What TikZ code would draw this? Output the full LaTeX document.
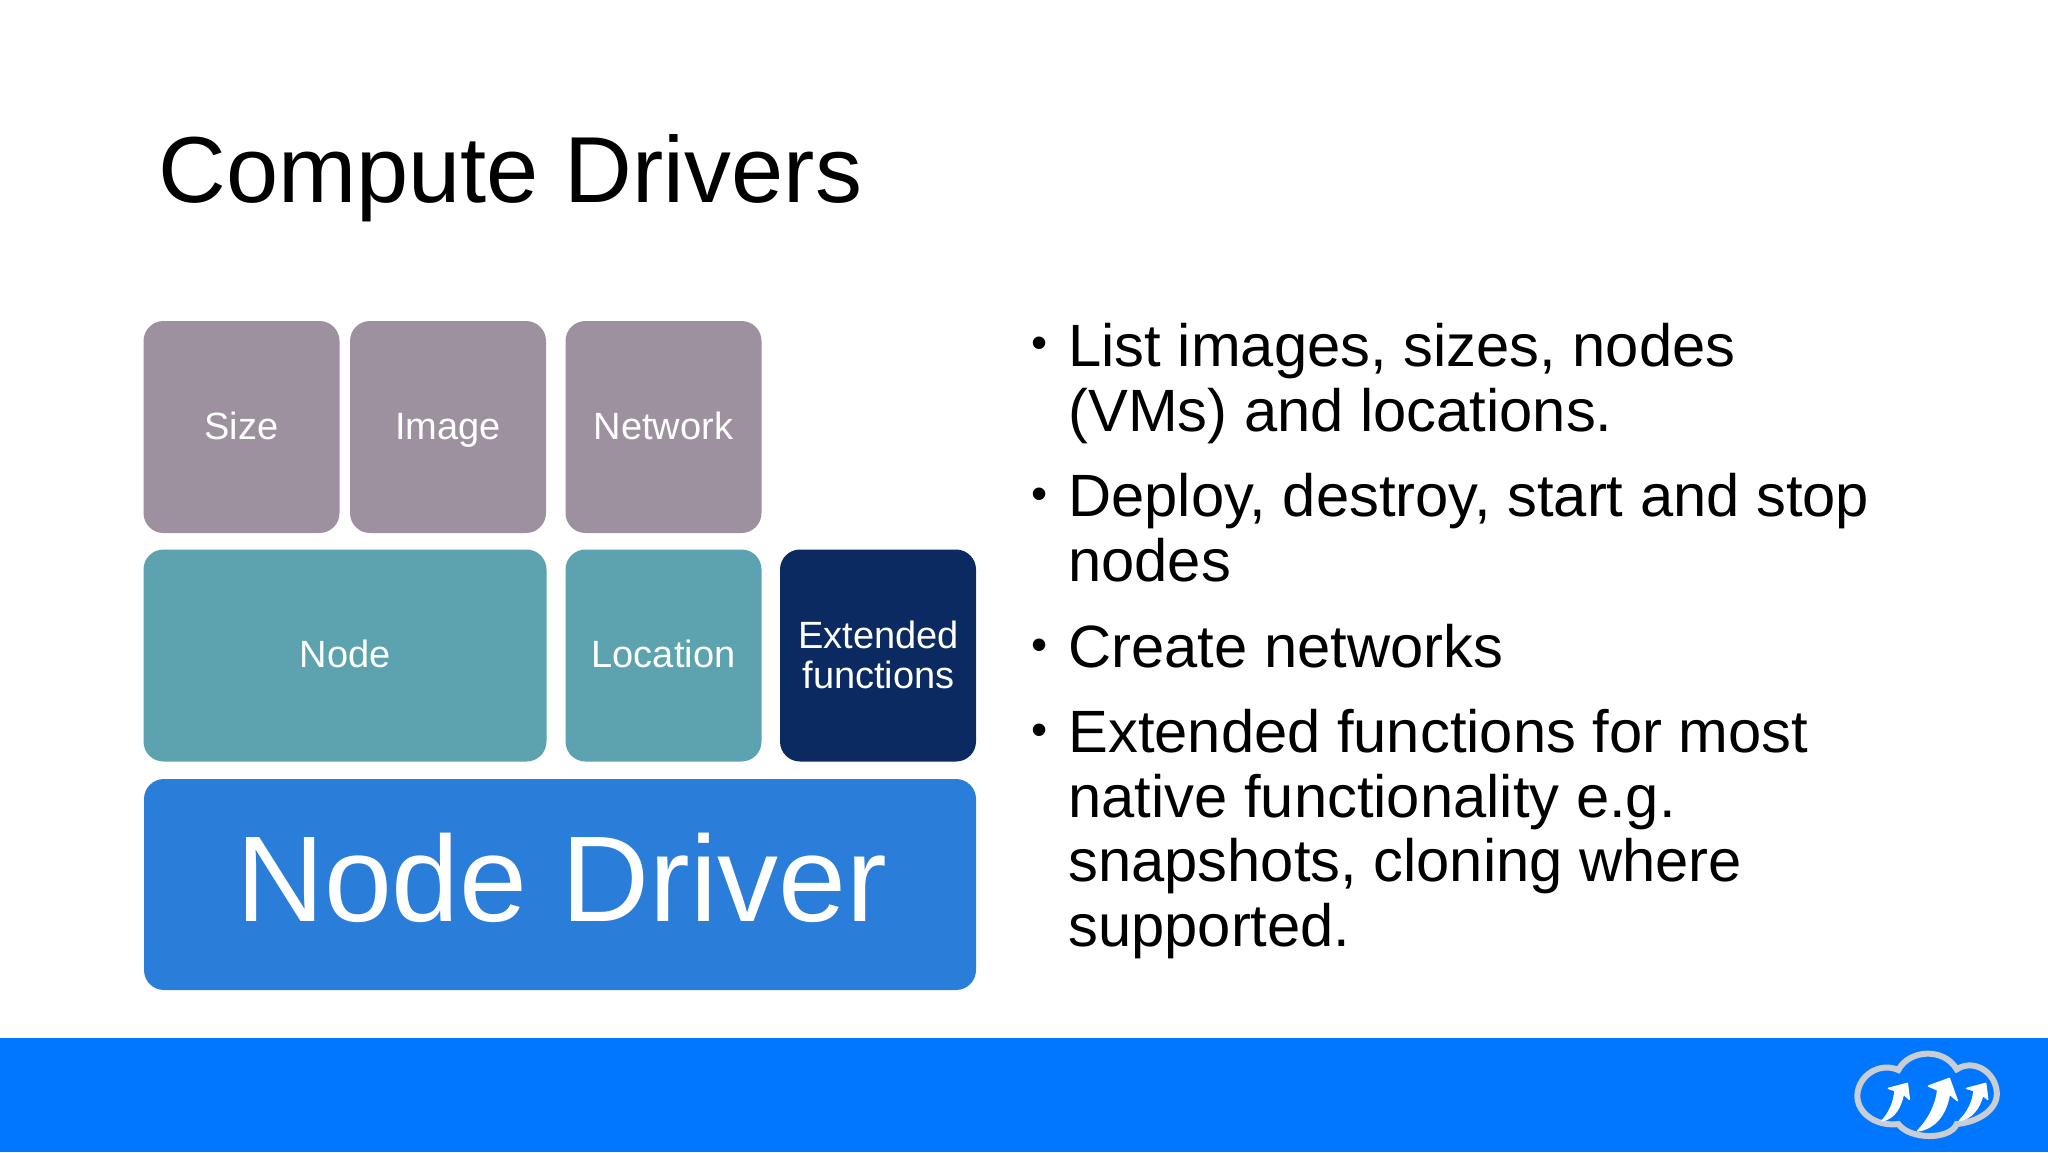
\documentclass[tikz,border=0pt]{standalone}
\usepackage{fontspec}
\setmainfont{Liberation Sans}
\definecolor{mauve}{HTML}{9E919F}
\definecolor{teal2}{HTML}{5CA2AF}
\definecolor{navy2}{HTML}{0A2A61}
\definecolor{blue2}{HTML}{2A7DD9}
\definecolor{band}{HTML}{0077FE}
\definecolor{cloudedge}{HTML}{C9CDD6}
\tikzset{
  block/.style={rectangle,rounded corners=10pt,inner sep=0pt,text=white,align=center,minimum height=106pt},
  small/.style={block,minimum width=98pt,font=\fontsize{19}{20}\selectfont,text height=12.4pt,text depth=0pt},
  bodytext/.style={anchor=base west,inner sep=0pt,align=left,font=\fontsize{29.85}{32.3}\selectfont},
  dotmark/.style={anchor=base,inner sep=0pt,font=\fontsize{23}{23}\selectfont},
  arrowshape/.style={fill=white,draw=white,line width=0.7pt,line join=round}
}
\begin{document}
\begin{tikzpicture}[x=0.5pt,y=-0.5pt]
\useasboundingbox (0,0) rectangle (2048,1152);
\fill[white] (0,0) rectangle (2048,1152);
\fill[band] (0,1038) rectangle (2048,1152);
\node[anchor=base west,inner sep=0pt,font=\fontsize{46.9}{50}\selectfont] (title) at (158,202) {Compute Drivers};
% blocks
\node[small,fill=mauve] (size) at (241.5,427) {Size};
\node[small,fill=mauve] (image) at (448,427) {Image};
\node[small,fill=mauve] (network) at (663.5,427) {Network};
\node[block,minimum width=201.5pt,fill=teal2,font=\fontsize{19}{20}\selectfont,text height=12.4pt,text depth=0pt] (nodeb) at (345,655.5) {Node};
\node[small,fill=teal2] (location) at (663.5,655.5) {Location};
\node[block,minimum width=98pt,fill=navy2,font=\fontsize{19}{20}\selectfont] (ext) at (878,655.5) {\raisebox{1pt}{\hspace*{0.6pt}Extended}\\\raisebox{1pt}{\hspace*{0.6pt}functions}};
\node[block,minimum width=416pt,minimum height=105.5pt,fill=blue2,font=\fontsize{61}{62}\selectfont,text height=37pt,text depth=0pt] (driver) at (560,884.5) {\hspace*{1.5pt}Node Driver};
% bullets
\node[dotmark] (b1) at (1040,358.5) {•};
\node[bodytext] (t1) at (1068,431) {List images, sizes, nodes\\(VMs) and locations.};
\node[dotmark] (b2) at (1040,509.5) {•};
\node[bodytext] (t2) at (1068,581) {Deploy, destroy, start and stop\\nodes};
\node[dotmark] (b3) at (1040,660) {•};
\node[bodytext] (t3) at (1068,667) {Create networks};
\node[dotmark] (b4) at (1040,745) {•};
\node[bodytext] (t4) at (1068,946.5) {Extended functions for most\\native functionality e.g.\\snapshots, cloning where\\supported.};
% logo
\begin{scope}[shift={(1800,1020)},x=0.1667pt,y=-0.1667pt]
\draw[cloudedge,line width=3pt,fill=band]
  (295,150) .. controls (325,90) and (430,80) .. (470,148)
  .. controls (520,115) and (585,155) .. (590,215)
  .. controls (595,265) and (540,305) .. (470,312)
  .. controls (450,360) and (330,360) .. (295,312)
  .. controls (230,320) and (170,280) .. (172,225)
  .. controls (175,165) and (240,125) .. (295,150) -- cycle;
\path[arrowshape] (265,205) -- (322,190) -- (328,238) -- (310,222)
  .. controls (302,260) and (285,295) .. (245,303)
  .. controls (268,280) and (282,245) .. (285,212) -- cycle;
\path[arrowshape] (385,198) -- (448,175) -- (472,242) -- (448,222)
  .. controls (440,275) and (410,325) .. (352,333)
  .. controls (385,300) and (408,255) .. (413,210) -- cycle;
\path[arrowshape] (500,205) -- (557,190) -- (563,238) -- (548,226)
  .. controls (538,265) and (515,295) .. (478,302)
  .. controls (505,275) and (518,245) .. (522,212) -- cycle;
\end{scope}
\end{tikzpicture}
\end{document}
